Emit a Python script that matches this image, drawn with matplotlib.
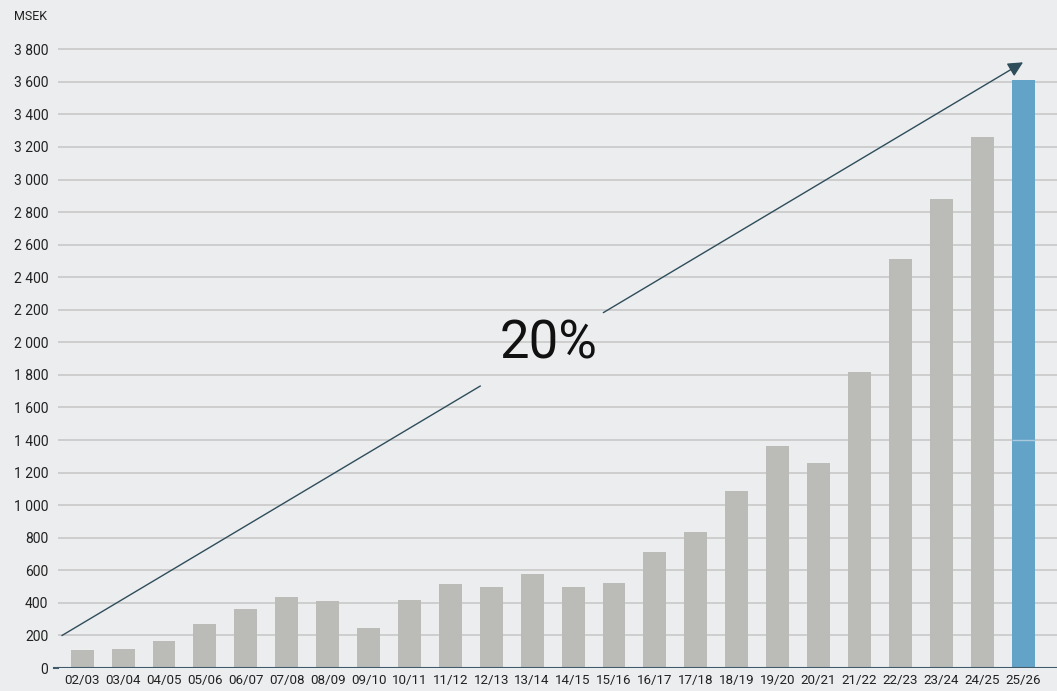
import matplotlib
matplotlib.use("Agg")
import matplotlib.pyplot as plt
from matplotlib.lines import Line2D

categories = ["02/03", "03/04", "04/05", "05/06", "06/07", "07/08", "08/09", "09/10",
              "10/11", "11/12", "12/13", "13/14", "14/15", "15/16", "16/17", "17/18",
              "18/19", "19/20", "20/21", "21/22", "22/23", "23/24", "24/25", "25/26"]
values = [110, 115, 165, 270, 360, 435, 410, 245,
          415, 515, 495, 580, 500, 525, 710, 835,
          1085, 1365, 1260, 1820, 2510, 2880, 3260, 3610]
yticks = list(range(0, 3801, 200))
growth_label = "20%"
unit_label = "MSEK"

plt.rcParams['font.family'] = ['Roboto', 'DejaVu Sans']

bg = "#ECEDEF"
grey = "#BBBBB8"
blue = "#64A3C8"
dark = "#2E4D5A"

fig = plt.figure(figsize=(10.57, 6.91), dpi=100, facecolor=bg)
ax = fig.add_axes([58/1057, 23/691, 1 - 58/1057, (668-33)/691])
ax.set_facecolor(bg)

x = list(range(len(categories)))
colors = [grey] * (len(values) - 1) + [blue]
bars = ax.bar(x, values, width=0.56, color=colors, zorder=2)

ax.set_ylim(0, 3900)
ax.set_xlim(-0.59, len(categories) - 1 + 0.83)
ax.set_yticks(yticks)
ax.set_yticklabels([f"{v:,}".replace(",", " ") for v in yticks])
ax.set_xticks(x)
ax.set_xticklabels(categories)
ax.tick_params(axis='both', length=0, labelsize=10, colors="#222222")
ax.tick_params(axis='y', pad=7)
ax.tick_params(axis='x', pad=4, labelsize=9.6)
ax.yaxis.grid(True, color="#C8C8C8", linewidth=1.2, zorder=1)
ax.set_axisbelow(True)
for s in ax.spines.values():
    s.set_visible(False)
ax.axhline(0, color="#3F5A6A", linewidth=1.5, zorder=3)
ax.add_line(Line2D([-0.7, -0.59], [0, 0], color="#3F5A6A", linewidth=1.5, clip_on=False))

# faint gridline visible across the highlighted bar
last = bars[-1]
ax.hlines(1400, last.get_x(), last.get_x() + last.get_width(), color="#A9C9DC", linewidth=1.0, zorder=3)

# growth arrow (two segments with gap for label)
x0, y0 = -0.49, 200
x1, y1 = 23.0, 3720
def yat(xx):
    return y0 + (xx - x0) * (y1 - y0) / (x1 - x0)
g0, g1 = 9.73, 12.74
ax.plot([x0, g0], [y0, yat(g0)], color=dark, linewidth=1.0, zorder=4, clip_on=False)
ax.annotate("", xy=(x1, y1), xytext=(g1, yat(g1)),
            arrowprops=dict(arrowstyle="-|>,head_length=0.9,head_width=0.45",
                            color=dark, linewidth=1.0, shrinkA=0, shrinkB=0), zorder=4)
ax.text(11.4, 1990, growth_label, fontsize=38, ha="center", va="center", color="#111111", zorder=5)

fig.text(14/1057, 1 - 16/691, unit_label, fontsize=9, ha="left", va="center", color="#222222")

fig.savefig("out.png", dpi=100, facecolor=bg)
